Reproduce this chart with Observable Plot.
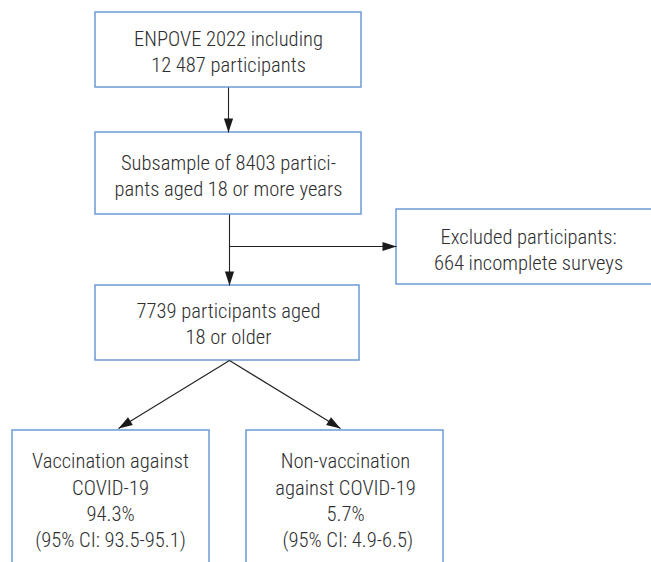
<!DOCTYPE html>
<html><head><meta charset="utf-8">
<script src="https://cdn.jsdelivr.net/npm/d3@7"></script>
<script src="https://cdn.jsdelivr.net/npm/@observablehq/plot@0.6"></script>
<style>
body{margin:0;background:#fff}
#chart svg{display:block}
</style>
</head><body><div id="chart"></div>
<script>
// Flowchart content
const stepIds = ["enpove", "adults", "excluded", "complete", "vacc", "nonvacc"];
const stepLabels = [
  "ENPOVE 2022 including\n12 487 participants",
  "Subsample of 8403 partici-\npants aged 18 or more years",
  "Excluded participants:\n664 incomplete surveys",
  "7739 participants aged\n18 or older",
  "Vaccination against\nCOVID-19\n94.3%\n(95% CI: 93.5-95.1)",
  "Non-vaccination\nagainst COVID-19\n5.7%\n (95% CI: 4.9-6.5)"
];
const flowFrom = ["enpove", "adults", "adults", "complete", "complete"];
const flowTo   = ["adults", "complete", "excluded", "vacc", "nonvacc"];

// Layout (pixel canvas coordinates)
const layoutX1 = [95, 95, 396, 95, 12, 246];
const layoutX2 = [361, 361, 668, 359, 209, 443];
const layoutY1 = [12, 132, 209, 285, 430, 430];
const layoutY2 = [87, 214, 284, 360, 620, 620];
const labelX = [228, 228, 528, 228, 110, 345];
const labelY = [50, 174, 248, 322, 499, 499];
const edgeStart = [[228, 87], [229, 214], [229, 246], [229, 360], [229, 360]];
const edgeEnd   = [[228, 132], [229, 285], [396, 246], [118, 428], [340, 428]];

const boxes = stepIds.map((id, i) => ({id, label: stepLabels[i], x1: layoutX1[i], x2: layoutX2[i], y1: layoutY1[i], y2: layoutY2[i], lx: labelX[i], ly: labelY[i]}));
const edges = flowFrom.map((f, i) => ({from: f, to: flowTo[i], xa: edgeStart[i][0], ya: edgeStart[i][1], xb: edgeEnd[i][0], yb: edgeEnd[i][1]}));

function headSymbol(dx, dy) {
  const len = Math.hypot(dx, dy), ux = dx / len, uy = dy / len;
  const L = 14, W = 4.6;
  return {
    draw(ctx) {
      ctx.moveTo(0, 0);
      ctx.lineTo(-ux * L - uy * W, -uy * L + ux * W);
      ctx.lineTo(-ux * L + uy * W, -uy * L - ux * W);
      ctx.closePath();
    }
  };
}

const font = "'Roboto Condensed', 'Liberation Sans Narrow', 'Arial Narrow', 'DejaVu Sans Condensed', Roboto, sans-serif";

const chart = Plot.plot({
  width: 651,
  height: 562,
  margin: 0,
  x: {domain: [0, 651], axis: null},
  y: {domain: [0, 562], reverse: true, axis: null},
  style: {fontFamily: font, background: "#fff"},
  marks: [
    Plot.rect(boxes, {x1: "x1", x2: "x2", y1: "y1", y2: "y2", fill: "white", stroke: "#6b9bd6", strokeWidth: 1.5, clip: true}),
    Plot.link(edges, {x1: "xa", y1: "ya", x2: "xb", y2: "yb", stroke: "#222", strokeWidth: 1.1}),
    ...edges.map(e => Plot.dot([e], {x: "xb", y: "yb", symbol: headSymbol(e.xb - e.xa, e.yb - e.ya), r: 5, fill: "#1a1a1a", stroke: "none"})),
    Plot.text(boxes, {x: "lx", y: "ly", text: "label", fontSize: 20.6, fontWeight: 300, lineHeight: 1.28, fill: "#2e2e2e", textAnchor: "middle"})
  ]
});
document.getElementById("chart").append(chart);
</script>
</body></html>
